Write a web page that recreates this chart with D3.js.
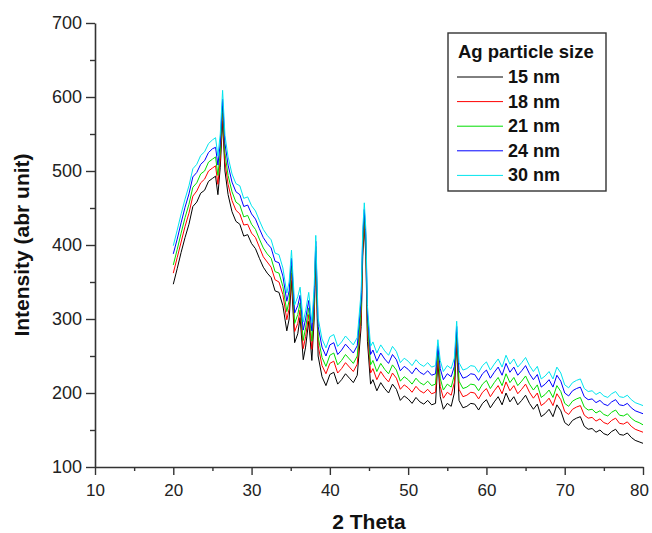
<!DOCTYPE html>
<html>
<head>
<meta charset="utf-8">
<script src="https://cdn.jsdelivr.net/npm/d3@7"></script>
<style>
  body { margin: 0; background: #fff; }
  svg { display: block; font-family: "Liberation Sans", Arial, sans-serif; }
  .axis path, .axis line { stroke: #333; }
  .axis text { fill: #222; font-size: 18px; }
</style>
</head>
<body>
<svg width="652" height="533"></svg>
<script>
// 2-theta positions shared by all series
const twoTheta = [
  20, 20.5, 21, 21.5, 22, 22.5, 23, 23.5, 24, 24.5,
  25, 25.4, 25.7, 26.0, 26.3, 26.6, 27, 27.5, 28, 28.5,
  29, 29.5, 30, 30.5, 31, 31.5, 32, 32.5, 33, 33.5,
  34, 34.5, 34.8, 35.1, 35.5, 35.9, 36.2, 36.6, 36.9, 37.3,
  37.7, 38.0, 38.2, 38.5, 39, 39.5, 40, 40.5, 41, 41.5,
  42, 42.5, 43, 43.5, 44.0, 44.2, 44.4, 44.6, 44.8, 45.2, 45.5, 46,
  46.5, 47, 47.5, 48, 48.5, 49, 49.5, 50, 50.5, 51,
  51.5, 52, 52.5, 53, 53.5, 53.8, 54.1, 54.5, 55, 55.5,
  55.9, 56.2, 56.5, 57, 57.5, 58, 58.5, 59, 59.5, 60,
  60.5, 61, 61.5, 62, 62.5, 63, 63.5, 64, 64.5, 65,
  65.5, 66, 66.5, 67, 67.5, 68, 68.5, 69, 69.5, 70,
  70.5, 71, 71.5, 72, 72.5, 73, 73.5, 74, 74.5, 75,
  75.5, 76, 76.5, 77, 77.5, 78, 78.5, 79, 79.5, 80
];

const nm15 = [
  347, 368, 390, 410, 428, 452, 458, 470, 474, 486,
  490, 493, 468, 505, 568, 500, 468, 445, 432, 428,
  412, 414, 402, 395, 382, 370, 362, 356, 338, 336,
  318, 284, 300, 352, 268, 280, 302, 245, 262, 297,
  244, 300, 385, 250, 222, 210, 225, 228, 212, 218,
  226, 220, 214, 224, 290, 385, 425, 385, 270, 212, 218, 203,
  214, 206, 200, 212, 205, 190, 196, 192, 186, 194,
  188, 185, 190, 184, 186, 243, 195, 178, 186, 182,
  200, 268, 190, 180, 182, 186, 185, 177, 186, 191,
  180, 188, 195, 184, 200, 188, 195, 184, 190, 197,
  186, 178, 185, 168, 172, 178, 168, 184, 176, 160,
  156, 163, 166, 168, 155, 151, 152, 147, 150, 145,
  143, 148, 151, 144, 143, 146, 140, 136, 134, 132
];

const nm18 = [
  362, 383, 404, 425, 443, 466, 473, 484, 489, 500,
  504, 507, 482, 516, 578, 512, 482, 460, 447, 442,
  427, 428, 416, 410, 397, 384, 377, 370, 353, 350,
  333, 299, 314, 362, 283, 294, 312, 260, 276, 306,
  259, 312, 392, 264, 237, 226, 240, 243, 227, 233,
  241, 235, 229, 239, 304, 394, 432, 394, 284, 227, 233, 218,
  229, 221, 215, 227, 220, 205, 211, 207, 201, 209,
  203, 200, 205, 199, 201, 250, 209, 193, 201, 197,
  214, 275, 205, 195, 197, 201, 200, 192, 201, 206,
  195, 203, 210, 199, 215, 203, 210, 199, 205, 212,
  201, 193, 200, 183, 187, 193, 183, 199, 191, 175,
  171, 178, 181, 183, 170, 166, 167, 162, 165, 160,
  158, 163, 166, 159, 158, 161, 155, 151, 149, 147
];

const nm21 = [
  373, 394, 416, 437, 455, 478, 484, 496, 500, 512,
  516, 519, 494, 526, 588, 524, 494, 472, 458, 454,
  438, 440, 428, 421, 408, 396, 388, 382, 364, 362,
  344, 310, 325, 372, 294, 306, 322, 271, 288, 315,
  270, 322, 398, 276, 248, 236, 251, 254, 238, 244,
  252, 246, 240, 250, 314, 402, 440, 402, 295, 238, 244, 229,
  240, 232, 226, 238, 231, 216, 222, 218, 212, 220,
  214, 211, 216, 210, 212, 257, 220, 204, 212, 208,
  224, 282, 216, 206, 208, 212, 211, 203, 212, 217,
  206, 214, 221, 210, 226, 214, 221, 210, 216, 223,
  212, 204, 211, 194, 198, 204, 194, 210, 202, 186,
  182, 189, 192, 194, 181, 177, 178, 173, 176, 171,
  169, 174, 177, 170, 169, 172, 166, 162, 160, 157
];

const nm24 = [
  388, 408, 430, 451, 469, 492, 498, 509, 514, 525,
  530, 532, 508, 538, 597, 537, 508, 485, 472, 468,
  452, 454, 442, 435, 422, 410, 402, 396, 378, 376,
  358, 324, 338, 382, 308, 318, 332, 285, 300, 325,
  284, 333, 405, 290, 262, 250, 265, 268, 252, 258,
  266, 260, 254, 264, 326, 412, 448, 412, 307, 252, 258, 243,
  254, 246, 240, 252, 245, 230, 236, 232, 226, 234,
  228, 225, 230, 224, 226, 264, 233, 218, 226, 222,
  236, 290, 230, 220, 222, 226, 225, 217, 226, 231,
  220, 228, 235, 224, 240, 228, 235, 224, 230, 237,
  226, 218, 225, 208, 212, 218, 208, 224, 216, 200,
  196, 203, 206, 208, 195, 191, 192, 187, 190, 185,
  183, 188, 191, 184, 183, 186, 180, 176, 174, 172
];

const nm30 = [
  399, 420, 442, 462, 480, 503, 509, 521, 526, 537,
  542, 545, 520, 550, 609, 548, 519, 496, 483, 480,
  463, 465, 453, 446, 433, 421, 413, 407, 389, 387,
  369, 335, 350, 393, 319, 330, 343, 296, 311, 336,
  295, 344, 413, 301, 273, 261, 276, 279, 263, 269,
  277, 271, 265, 275, 337, 421, 457, 421, 318, 263, 269, 254,
  265, 257, 251, 263, 256, 241, 247, 243, 237, 245,
  239, 236, 241, 235, 237, 272, 244, 229, 237, 233,
  247, 297, 241, 231, 233, 237, 236, 228, 237, 242,
  231, 239, 246, 235, 251, 239, 246, 235, 241, 248,
  237, 229, 236, 219, 223, 229, 219, 235, 227, 211,
  207, 214, 217, 219, 206, 202, 203, 198, 201, 196,
  194, 199, 202, 195, 194, 197, 191, 187, 185, 183
];

const seriesNames = ['15 nm', '18 nm', '21 nm', '24 nm', '30 nm'];
const seriesValues = [nm15, nm18, nm21, nm24, nm30];
const seriesColors = ['#000000', '#ff0000', '#00dd00', '#0000ff', '#00e5ee'];

const xTicks = [10, 20, 30, 40, 50, 60, 70, 80];
const yTicks = [100, 200, 300, 400, 500, 600, 700];

const svg = d3.select('svg');
const margin = { top: 23, right: 9, bottom: 66, left: 95 };
const width = +svg.attr('width') - margin.left - margin.right;
const height = +svg.attr('height') - margin.top - margin.bottom;

const g = svg.append('g').attr('transform', `translate(${margin.left},${margin.top})`);

const x = d3.scaleLinear().domain([10, 80]).range([0, width]);
const y = d3.scaleLinear().domain([100, 700]).range([height, 0]);

// minor ticks first, then major ones with labels
g.append('g')
    .attr('class', 'axis')
    .attr('transform', `translate(0,${height})`)
    .call(d3.axisBottom(x).tickValues(d3.range(15, 80, 10)).tickSize(4).tickFormat(''))
    .call(a => a.select('.domain').remove());
g.append('g')
    .attr('class', 'axis')
    .call(d3.axisLeft(y).tickValues(d3.range(150, 700, 100)).tickSize(5).tickFormat(''))
    .call(a => a.select('.domain').remove());

const xAxis = g.append('g')
    .attr('class', 'axis')
    .attr('transform', `translate(0,${height})`)
    .call(d3.axisBottom(x).tickValues(xTicks).tickSize(8).tickSizeOuter(0).tickPadding(9));
xAxis.selectAll('text').style('font-size', '17px');
xAxis.selectAll('text').filter(d => d === 80).attr('dx', -4);

g.append('g')
    .attr('class', 'axis')
    .call(d3.axisLeft(y).tickValues(yTicks).tickSize(9).tickSizeOuter(0).tickPadding(4));
g.selectAll('.axis .domain').attr('stroke-width', 1.6);
g.selectAll('.axis line').attr('stroke-width', 1.4);

const line = d3.line()
    .x((d, i) => x(twoTheta[i]))
    .y(d => y(d));

seriesValues.forEach((vals, k) => {
    g.append('path')
        .datum(vals)
        .attr('fill', 'none')
        .attr('stroke', seriesColors[k])
        .attr('stroke-width', 1)
        .attr('stroke-linejoin', 'round')
        .attr('d', line);
});

// axis titles
svg.append('text')
    .attr('x', margin.left + width / 2)
    .attr('y', 529)
    .attr('text-anchor', 'middle')
    .attr('font-size', '21px')
    .attr('font-weight', 'bold')
    .attr('fill', '#111')
    .text('2 Theta');

svg.append('text')
    .attr('transform', `translate(29,${margin.top + height / 2}) rotate(-90)`)
    .attr('text-anchor', 'middle')
    .attr('font-size', '21px')
    .attr('font-weight', 'bold')
    .attr('fill', '#111')
    .text('Intensity (abr unit)');

// legend
const legend = svg.append('g').attr('transform', 'translate(448,33)');
legend.append('rect')
    .attr('width', 158)
    .attr('height', 158)
    .attr('fill', '#fff')
    .attr('stroke', '#333')
    .attr('stroke-width', 1.4);
legend.append('text')
    .attr('x', 10)
    .attr('y', 25)
    .attr('font-size', '18.5px')
    .attr('font-weight', 'bold')
    .attr('fill', '#111')
    .text('Ag particle size');

seriesNames.forEach((name, k) => {
    const ly = 44 + k * 24.6;
    legend.append('line')
        .attr('x1', 9).attr('x2', 55)
        .attr('y1', ly).attr('y2', ly)
        .attr('stroke', seriesColors[k])
        .attr('stroke-width', 1);
    legend.append('text')
        .attr('x', 60)
        .attr('y', ly + 6)
        .attr('font-size', '18px')
        .attr('font-weight', 'bold')
        .attr('fill', '#111')
        .text(name);
});
</script>
</body>
</html>
